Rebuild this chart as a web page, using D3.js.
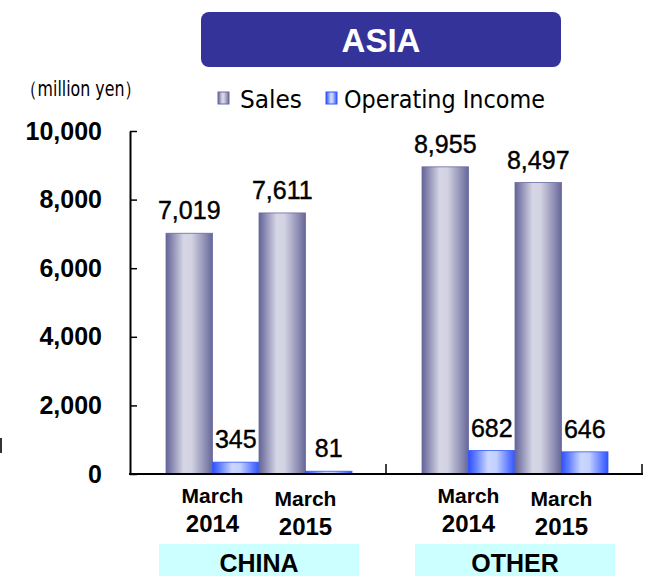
<!DOCTYPE html>
<html>
<head>
<meta charset="utf-8">
<script src="https://cdn.jsdelivr.net/npm/d3@7"></script>
<style>
  html, body { margin: 0; padding: 0; background: #fff; }
  svg { display: block; }
</style>
</head>
<body>
<svg id="chart" width="648" height="576"></svg>
<script>
// ---- data ----
const title = "ASIA";
const unitLabel = "（million yen）";
const regions = ["CHINA", "OTHER"];
const years = ["March 2014", "March 2015"];
const series = ["Sales", "Operating Income"];
// values in order: CHINA 2014, CHINA 2015, OTHER 2014, OTHER 2015
const sales = [7019, 7611, 8955, 8497];
const operatingIncome = [345, 81, 682, 646];
const yTicks = [0, 2000, 4000, 6000, 8000, 10000];

// ---- build rows ----
const rows = [];
regions.forEach((r, ri) => {
  years.forEach((yr, yi) => {
    const i = ri * years.length + yi;
    rows.push({ region: r, year: yr, Sales: sales[i], "Operating Income": operatingIncome[i] });
  });
});

const svg = d3.select("#chart");
const plotLeft = 130, plotRight = 642, plotTop = 131, plotBottom = 474;

// ---- gradients ----
const defs = svg.append("defs");
function grad(id, stops) {
  const g = defs.append("linearGradient").attr("id", id)
    .attr("x1", "0").attr("x2", "1").attr("y1", "0").attr("y2", "0");
  stops.forEach(([o, c]) => g.append("stop").attr("offset", o).attr("stop-color", c));
}
grad("gSales", [[0, "#64649a"], [0.12, "#8787b0"], [0.38, "#d6d6e6"], [0.55, "#d2d2e3"], [0.85, "#8c8cb2"], [1, "#66669b"]]);
grad("gOI", [[0, "#3050ff"], [0.15, "#5f7dff"], [0.42, "#cad7ff"], [0.6, "#c2d0ff"], [0.88, "#5877ff"], [1, "#3355ff"]]);
const fillFor = { "Sales": "url(#gSales)", "Operating Income": "url(#gOI)" };
const strokeFor = { "Sales": "#6a6a9e", "Operating Income": "#3355ff" };

// ---- scales ----
const y = d3.scaleLinear().domain([0, 10000]).range([plotBottom, plotTop]);
const x0 = d3.scaleBand().domain(regions).range([plotLeft, plotRight]);
const x1 = d3.scaleBand().domain(years).range([36, 222]);
const x2 = d3.scaleBand().domain(series).range([0, x1.bandwidth()]);

// ---- title ----
svg.append("rect").attr("x", 201).attr("y", 12).attr("width", 360).attr("height", 55)
  .attr("rx", 8).attr("fill", "#333399");
svg.append("text").attr("x", 381).attr("y", 52).attr("text-anchor", "middle")
  .attr("font-family", "Liberation Sans, Arial, sans-serif").attr("font-weight", "bold")
  .attr("font-size", 33).attr("fill", "#fff").text(title);

// ---- unit label ----
svg.append("text").attr("x", 20).attr("y", 96)
  .attr("font-family", "Liberation Sans Narrow, DejaVu Sans Condensed, sans-serif")
  .attr("font-size", 21).attr("fill", "#000")
  .attr("textLength", 122).attr("lengthAdjust", "spacingAndGlyphs")
  .text(unitLabel);

// ---- legend ----
const legendItems = [
  { name: "Sales", x: 218, tx: 240, len: 62 },
  { name: "Operating Income", x: 326, tx: 344, len: 201 }
];
const lg = svg.append("g");
legendItems.forEach(d => {
  lg.append("rect").attr("x", d.x).attr("y", 92).attr("width", 11).attr("height", 12)
    .attr("fill", fillFor[d.name]).attr("stroke", strokeFor[d.name]).attr("stroke-width", 1);
  lg.append("text").attr("x", d.tx).attr("y", 108)
    .attr("font-family", "Liberation Sans Narrow, DejaVu Sans Condensed, sans-serif")
    .attr("font-size", 25).attr("fill", "#000")
    .attr("textLength", d.len).attr("lengthAdjust", "spacingAndGlyphs")
    .text(d.name);
});

// ---- bars ----
const groups = svg.append("g").selectAll("g").data(rows).join("g")
  .attr("transform", d => `translate(${x0(d.region) + x1(d.year)},0)`);

groups.selectAll("rect").data(d => series.map(s => ({ s, v: d[s] }))).join("rect")
  .attr("x", d => x2(d.s))
  .attr("y", d => y(d.v))
  .attr("width", x2.bandwidth())
  .attr("height", d => y(0) - y(d.v))
  .attr("fill", d => fillFor[d.s])
  .attr("stroke", d => strokeFor[d.s])
  .attr("stroke-width", 0.8);

groups.selectAll("text.val").data(d => series.map(s => ({ s, v: d[s] }))).join("text")
  .attr("class", "val")
  .attr("x", d => x2(d.s) + x2.bandwidth() / 2)
  .attr("y", d => y(d.v) - 14)
  .attr("text-anchor", "middle")
  .attr("font-family", "Liberation Sans, Arial, sans-serif")
  .attr("font-size", 25).attr("fill", "#000")
  .attr("stroke", "#000").attr("stroke-width", 0.4)
  .text(d => d3.format(",")(d.v));

// ---- y axis ----
const yAxis = svg.append("g").attr("transform", `translate(${plotLeft},0)`)
  .call(d3.axisLeft(y).tickValues(yTicks).tickFormat(d3.format(","))
    .tickSizeInner(-7).tickSizeOuter(0).tickPadding(28));
yAxis.select(".domain").attr("stroke", "#000").attr("stroke-width", 2);
yAxis.selectAll(".tick line").attr("stroke", "#000").attr("stroke-width", 1.5);
yAxis.selectAll(".tick text")
  .attr("font-family", "Liberation Sans, Arial, sans-serif")
  .attr("font-weight", "bold").attr("font-size", 25).attr("fill", "#000");

// ---- x baseline & region dividers ----
svg.append("line").attr("x1", plotLeft - 1).attr("x2", plotRight + 1)
  .attr("y1", y(0)).attr("y2", y(0)).attr("stroke", "#000").attr("stroke-width", 2);
svg.append("g").selectAll("line").data(regions).join("line")
  .attr("x1", d => x0(d) + x0.bandwidth()).attr("x2", d => x0(d) + x0.bandwidth())
  .attr("y1", y(0)).attr("y2", y(0) - 10)
  .attr("stroke", "#000").attr("stroke-width", 1.5);

// ---- year labels ----
const yearLabels = svg.append("g").selectAll("text").data(rows).join("text")
  .attr("text-anchor", "middle")
  .attr("font-family", "Liberation Sans, Arial, sans-serif")
  .attr("font-weight", "bold").attr("fill", "#000")
  .attr("transform", (d, i) => `translate(${x0(d.region) + x1(d.year) + x1.bandwidth() / 2},${(i % 2 ? 506 : 503)})`);
yearLabels.selectAll("tspan").data(d => d.year.split(" ")).join("tspan")
  .attr("x", 0).attr("dy", (d, i) => i === 0 ? 0 : 29)
  .attr("font-size", (d, i) => i === 0 ? 21 : 24)
  .text(d => d);

// ---- region labels ----
const reg = svg.append("g").selectAll("g").data(regions).join("g")
  .attr("transform", d => `translate(${x0(d) + x0.bandwidth() / 2 + 1},0)`);
reg.append("rect").attr("x", -100).attr("y", 544).attr("width", 200).attr("height", 32)
  .attr("fill", "#ccffff");
reg.append("text").attr("x", 0).attr("y", 572).attr("text-anchor", "middle")
  .attr("font-family", "Liberation Sans, Arial, sans-serif")
  .attr("font-weight", "bold").attr("font-size", 25).attr("fill", "#000")
  .text(d => d);

// ---- small mark at left edge ----
svg.append("rect").attr("x", 0).attr("y", 438).attr("width", 2).attr("height", 15).attr("fill", "#333");
</script>
</body>
</html>
